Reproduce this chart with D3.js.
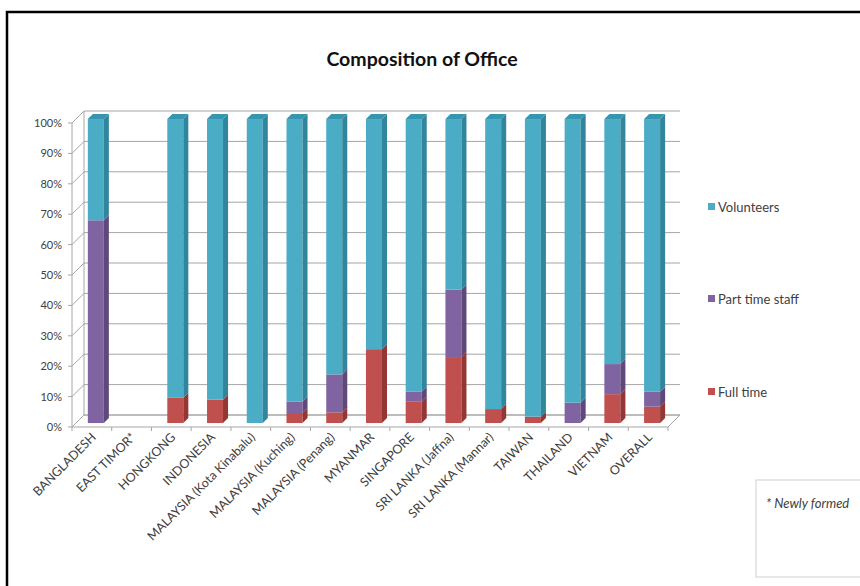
<!DOCTYPE html>
<html>
<head>
<meta charset="utf-8">
<script src="https://cdn.jsdelivr.net/npm/d3@7"></script>
<style>
  html, body { margin: 0; padding: 0; background: #fff; }
  svg { display: block; }
  text { font-family: Lato, "Open Sans", sans-serif; }
</style>
</head>
<body>
<svg id="chart" width="860" height="586"></svg>
<script>
const categories = ["BANGLADESH", "EAST TIMOR*", "HONGKONG", "INDONESIA", "MALAYSIA (Kota Kinabalu)",
  "MALAYSIA (Kuching)", "MALAYSIA (Penang)", "MYANMAR", "SINGAPORE", "SRI LANKA (Jaffna)",
  "SRI LANKA (Mannar)", "TAIWAN", "THAILAND", "VIETNAM", "OVERALL"];
const fullTime   = [0, 0, 8.3, 7.7, 0, 3.3, 3.5, 24.3, 7.0, 21.7, 4.6, 2.1, 0, 9.5, 5.4];
const partTime   = [66.7, 0, 0, 0, 0, 3.7, 12.5, 0, 3.3, 22.2, 0, 0, 6.7, 9.9, 4.9];
const volunteers = [33.3, 0, 91.7, 92.3, 100, 93.0, 84.0, 75.7, 89.7, 56.1, 95.4, 97.9, 93.3, 80.6, 89.7];
const seriesNames = ["Full time", "Part time staff", "Volunteers"];
const yTicks = [0, 10, 20, 30, 40, 50, 60, 70, 80, 90, 100];

const colors = {
  "Full time":       { face: "#C0504D", side: "#943634", top: "#A8413E" },
  "Part time staff": { face: "#8064A2", side: "#5F497A", top: "#6E5590" },
  "Volunteers":      { face: "#4BACC6", side: "#31859C", top: "#3796AF" }
};

const svg = d3.select("#chart");

// frame
svg.append("rect").attr("x", 7).attr("y", 12).attr("width", 900).attr("height", 700)
  .attr("fill", "#fff").attr("stroke", "#000").attr("stroke-width", 2.5);

// title
svg.append("text").attr("x", 422).attr("y", 66).attr("text-anchor", "middle")
  .attr("font-size", 19.5).attr("font-weight", "bold").attr("fill", "#111")
  .text("Composition of Office");

// geometry
const X0 = 72, X1 = 668, Y0 = 427, Y100 = 123;
const DX = 12, DY = -12;           // full depth offset
const x = d3.scaleBand().domain(categories).range([X0, X1]);
const y = d3.scaleLinear().domain([0, 100]).range([Y0, Y100]);

const grid = "#a6a6a6";
const g = svg.append("g");

// back wall gridlines + left wall diagonals
yTicks.forEach(t => {
  g.append("line").attr("x1", X0 + DX).attr("x2", X1 + DX)
    .attr("y1", y(t) + DY).attr("y2", y(t) + DY)
    .attr("stroke", grid).attr("stroke-width", 1);
  g.append("line").attr("x1", X0).attr("x2", X0 + DX)
    .attr("y1", y(t)).attr("y2", y(t) + DY)
    .attr("stroke", grid).attr("stroke-width", 1);
  g.append("line").attr("x1", X0 - 4).attr("x2", X0)
    .attr("y1", y(t)).attr("y2", y(t))
    .attr("stroke", grid).attr("stroke-width", 1);
});
// back wall left edge
g.append("line").attr("x1", X0 + DX).attr("x2", X0 + DX).attr("y1", y(0) + DY).attr("y2", y(100) + DY)
  .attr("stroke", grid);
// front vertical axis
g.append("line").attr("x1", X0).attr("x2", X0).attr("y1", y(0)).attr("y2", y(100))
  .attr("stroke", grid);
// floor
g.append("path")
  .attr("d", `M${X0},${Y0} L${X1},${Y0} L${X1 + DX},${Y0 + DY} L${X0 + DX},${Y0 + DY} Z`)
  .attr("fill", "none").attr("stroke", grid);
// x ticks
d3.range(categories.length + 1).forEach(i => {
  const xx = X0 + i * x.step();
  g.append("line").attr("x1", xx).attr("x2", xx).attr("y1", Y0).attr("y2", Y0 + 4)
    .attr("stroke", grid);
});

// y labels
yTicks.forEach(t => {
  svg.append("text").attr("x", 62).attr("y", y(t) + 4).attr("text-anchor", "end")
    .attr("font-size", 11).attr("fill", "#404040").text(t + "%");
});

// bars
const table = categories.map((c, i) => ({
  cat: c, "Full time": fullTime[i], "Part time staff": partTime[i], "Volunteers": volunteers[i]
}));
const stack = d3.stack().keys(seriesNames)(table);

const barW = 16;
const d1 = 0.33, d2 = 0.42;
const fx = DX * d1, fy = DY * d1, sx = DX * d2, sy = DY * d2;
const bars = svg.append("g");

table.forEach((row, i) => {
  const bx = x(row.cat) + (x.bandwidth() - barW) / 2 + fx;
  let topIdx = -1;
  seriesNames.forEach((k, j) => { if (row[k] > 0) topIdx = j; });
  seriesNames.forEach((k, j) => {
    const seg = stack[j][i];
    if (seg[1] - seg[0] <= 0) return;
    const ya = y(seg[0]) + fy, yb = y(seg[1]) + fy;
    const c = colors[k];
    bars.append("rect").attr("x", bx).attr("y", yb).attr("width", barW).attr("height", ya - yb)
      .attr("fill", c.face);
    bars.append("path")
      .attr("d", `M${bx + barW},${yb} L${bx + barW + sx},${yb + sy} L${bx + barW + sx},${ya + sy} L${bx + barW},${ya} Z`)
      .attr("fill", c.side);
    if (j === topIdx) {
      bars.append("path")
        .attr("d", `M${bx},${yb} L${bx + sx},${yb + sy} L${bx + barW + sx},${yb + sy} L${bx + barW},${yb} Z`)
        .attr("fill", c.top);
    }
  });
});

// x labels
categories.forEach(c => {
  const cx = x(c) + x.bandwidth() / 2 + 5;
  svg.append("text")
    .attr("transform", `translate(${cx},${438}) rotate(-45)`)
    .attr("text-anchor", "end").attr("font-size", 12.5).attr("fill", "#404040")
    .text(c);
});

// legend
const legendItems = [
  { name: "Volunteers", y: 212 },
  { name: "Part time staff", y: 304 },
  { name: "Full time", y: 397 }
];
legendItems.forEach(d => {
  svg.append("rect").attr("x", 708).attr("y", d.y - 9).attr("width", 7).attr("height", 7)
    .attr("fill", colors[d.name].face);
  svg.append("text").attr("x", 718).attr("y", d.y).attr("font-size", 13).attr("fill", "#404040")
    .text(d.name);
});

// note box
svg.append("rect").attr("x", 756).attr("y", 480).attr("width", 120).attr("height", 97)
  .attr("fill", "#fff").attr("stroke", "#d0d0d0").attr("stroke-width", 1);
svg.append("text").attr("x", 766).attr("y", 508).attr("font-size", 13).attr("font-style", "italic")
  .attr("fill", "#404040").text("* Newly  formed");
</script>
</body>
</html>
